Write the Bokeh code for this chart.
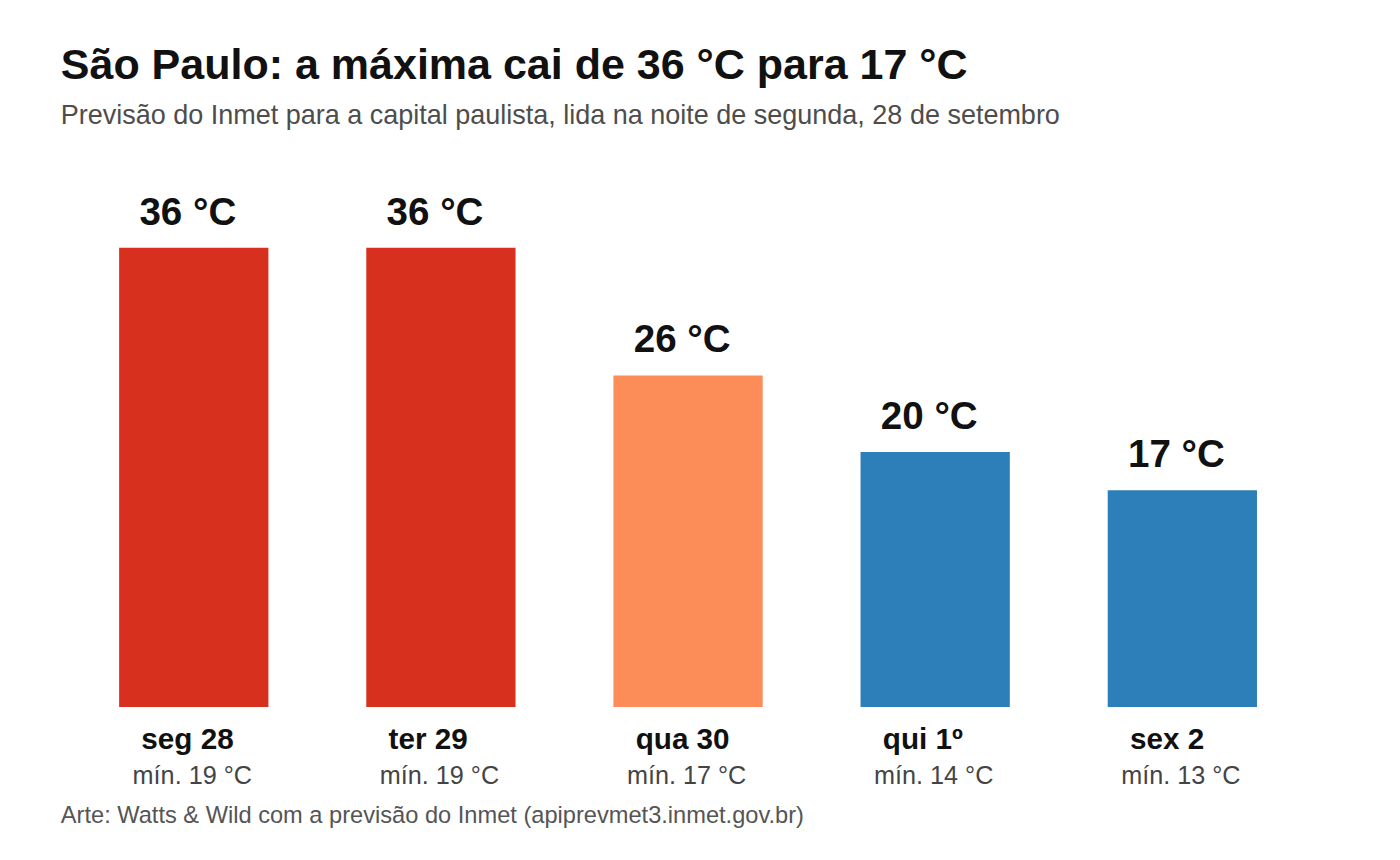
from bokeh.plotting import figure
from bokeh.models import ColumnDataSource, Range1d, Label
from bokeh.core.properties import value
from bokeh.embed import file_html
from bokeh.resources import INLINE

# ---- data ----
days = ["seg 28", "ter 29", "qua 30", "qui 1º", "sex 2"]
max_temp = [36, 36, 26, 20, 17]
min_temp = [19, 19, 17, 14, 13]
bar_colors = ["#d7301f", "#d7301f", "#fc8d59", "#2c7fb8", "#2c7fb8"]

title_text = "São Paulo: a máxima cai de 36 °C para 17 °C"
subtitle_text = "Previsão do Inmet para a capital paulista, lida na noite de segunda, 28 de setembro"
footer_text = "Arte: Watts & Wild com a previsão do Inmet (apiprevmet3.inmet.gov.br)"

FONT = "Liberation Sans"
W, H = 1384, 844
SX, SY = W / 1400.0, H / 860.0   # layout designed on a 1400x860 grid

px_per_cat = 250.0 * SX
first_center_px = 195.5 * SX
px_per_deg = 13.0 * SY
baseline_from_bottom = H - 720.0 * SY

x_start = -first_center_px / px_per_cat
y_start = -baseline_from_bottom / px_per_deg

p = figure(width=W, height=H, output_backend="svg", toolbar_location=None,
           x_range=Range1d(x_start, x_start + W / px_per_cat),
           y_range=Range1d(y_start, y_start + H / px_per_deg),
           min_border=0, min_border_left=0, min_border_right=0,
           min_border_top=0, min_border_bottom=0)
p.axis.visible = False
p.grid.visible = False
p.outline_line_color = None
p.background_fill_color = "white"
p.border_fill_color = "white"

src = ColumnDataSource(dict(
    x=list(range(len(days))),
    top=max_temp,
    color=bar_colors,
    day=days,
    val=[f"{v} °C" for v in max_temp],
    mn=[f"mín. {v} °C" for v in min_temp],
    zero=[0] * len(days),
))

p.vbar(x="x", top="top", bottom=0, width=151 * SX / px_per_cat, color="color",
       line_color=None, source=src)


def fs(px):
    return f"{px * SX:.2f}px"


p.text(x="x", y="top", text="val", source=src, text_font=value(FONT),
       text_font_style="bold", text_font_size=fs(39), text_color="#111111",
       text_align="center", text_baseline="middle",
       x_offset=-6 * SX, y_offset=-37.5 * SY)

p.text(x="x", y="zero", text="day", source=src, text_font=value(FONT),
       text_font_style="bold", text_font_size=fs(30), text_color="#111111",
       text_align="left", text_baseline="middle",
       x_offset=-53 * SX, y_offset=32 * SY)

p.text(x="x", y="zero", text="mn", source=src, text_font=value(FONT),
       text_font_size=fs(25.5), text_color="#444444",
       text_align="center", text_baseline="middle",
       x_offset=-1.5 * SX, y_offset=69 * SY)

p.add_layout(Label(x=61 * SX, y=H - 64.5 * SY, x_units="screen", y_units="screen",
                   text=title_text, text_font=FONT, text_font_style="bold",
                   text_font_size=fs(43.5), text_color="#111111",
                   text_baseline="middle"))
p.add_layout(Label(x=61 * SX, y=H - 117 * SY, x_units="screen", y_units="screen",
                   text=subtitle_text, text_font=FONT,
                   text_font_size=fs(27.3), text_color="#4d4d4d",
                   text_baseline="middle"))
p.add_layout(Label(x=61 * SX, y=H - 829.5 * SY, x_units="screen", y_units="screen",
                   text=footer_text, text_font=FONT,
                   text_font_size=fs(23.9), text_color="#555555",
                   text_baseline="middle"))

open("out.html", "w").write(file_html(p, INLINE))
